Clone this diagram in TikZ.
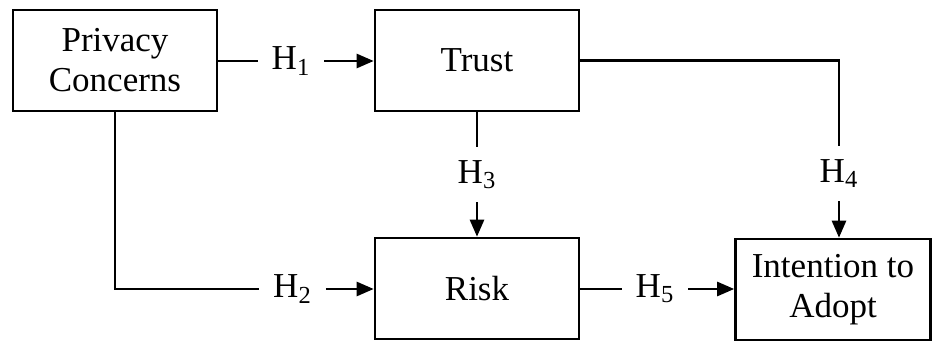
\documentclass[tikz,border=0pt]{standalone}
\usepackage{fontspec}
\setmainfont{Liberation Serif}
\usepackage{tikz}
\usetikzlibrary{arrows.meta}
\usetikzlibrary{calc}

\begin{document}
\begin{tikzpicture}[x=0.5pt,y=-0.5pt,
    line width=1.3pt,
    font=\fontsize{17.5}{20}\selectfont,
    box/.style={draw, align=center, minimum width=102pt, minimum height=50.5pt, inner sep=0pt},
    hlab/.style={inner sep=0pt, minimum width=32pt},
    vlab/.style={inner sep=0pt, minimum height=26.5pt},
    arr/.style={-{Triangle[length=8.5pt,width=7pt]}}]
      \useasboundingbox (0,0) rectangle (934,342);
      \node[box] (privacy) at (115,60.5) {Privacy\\Concerns};
      \node[box] (trust) at (477,60.5) {Trust};
      \node[box] (risk) at (477,288.5) {Risk};
      \node[box, minimum width=97.5pt] (intent) at (833,289.5) {Intention to\\Adopt};
      % hypothesis labels
      \node[hlab] (h1) at (291,61) {H\textsubscript{1}};
      \node[hlab] (h2) at (292.5,289) {H\textsubscript{2}};
      \node[vlab] (h3) at (477,174.5) {H\textsubscript{3}};
      \node[vlab] (h4) at (839,173.5) {H\textsubscript{4}};
      \node[hlab] (h5) at (655,289) {H\textsubscript{5}};
      \coordinate (c2) at (privacy.south |- h2);
      \coordinate (c4) at (h4 |- trust.east);
      % connectors
      \draw (privacy.east |- h1) -- (h1.west);
      \draw[arr] (h1.east) -- (trust.west |- h1);
      \draw (privacy.south) -- (c2) -- (h2.west);
      \draw[arr] (h2.east) -- (risk.west |- h2);
      \draw (trust.south) -- (h3.north);
      \draw[arr] (h3.south) -- (risk.north);
      \draw (trust.east) -- (c4) -- (h4.north);
      \draw[arr] (h4.south) -- (h4 |- intent.north);
      \draw (risk.east |- h5) -- (h5.west);
      \draw[arr] (h5.east) -- (intent.west |- h5);
    \end{tikzpicture}
\end{document}
